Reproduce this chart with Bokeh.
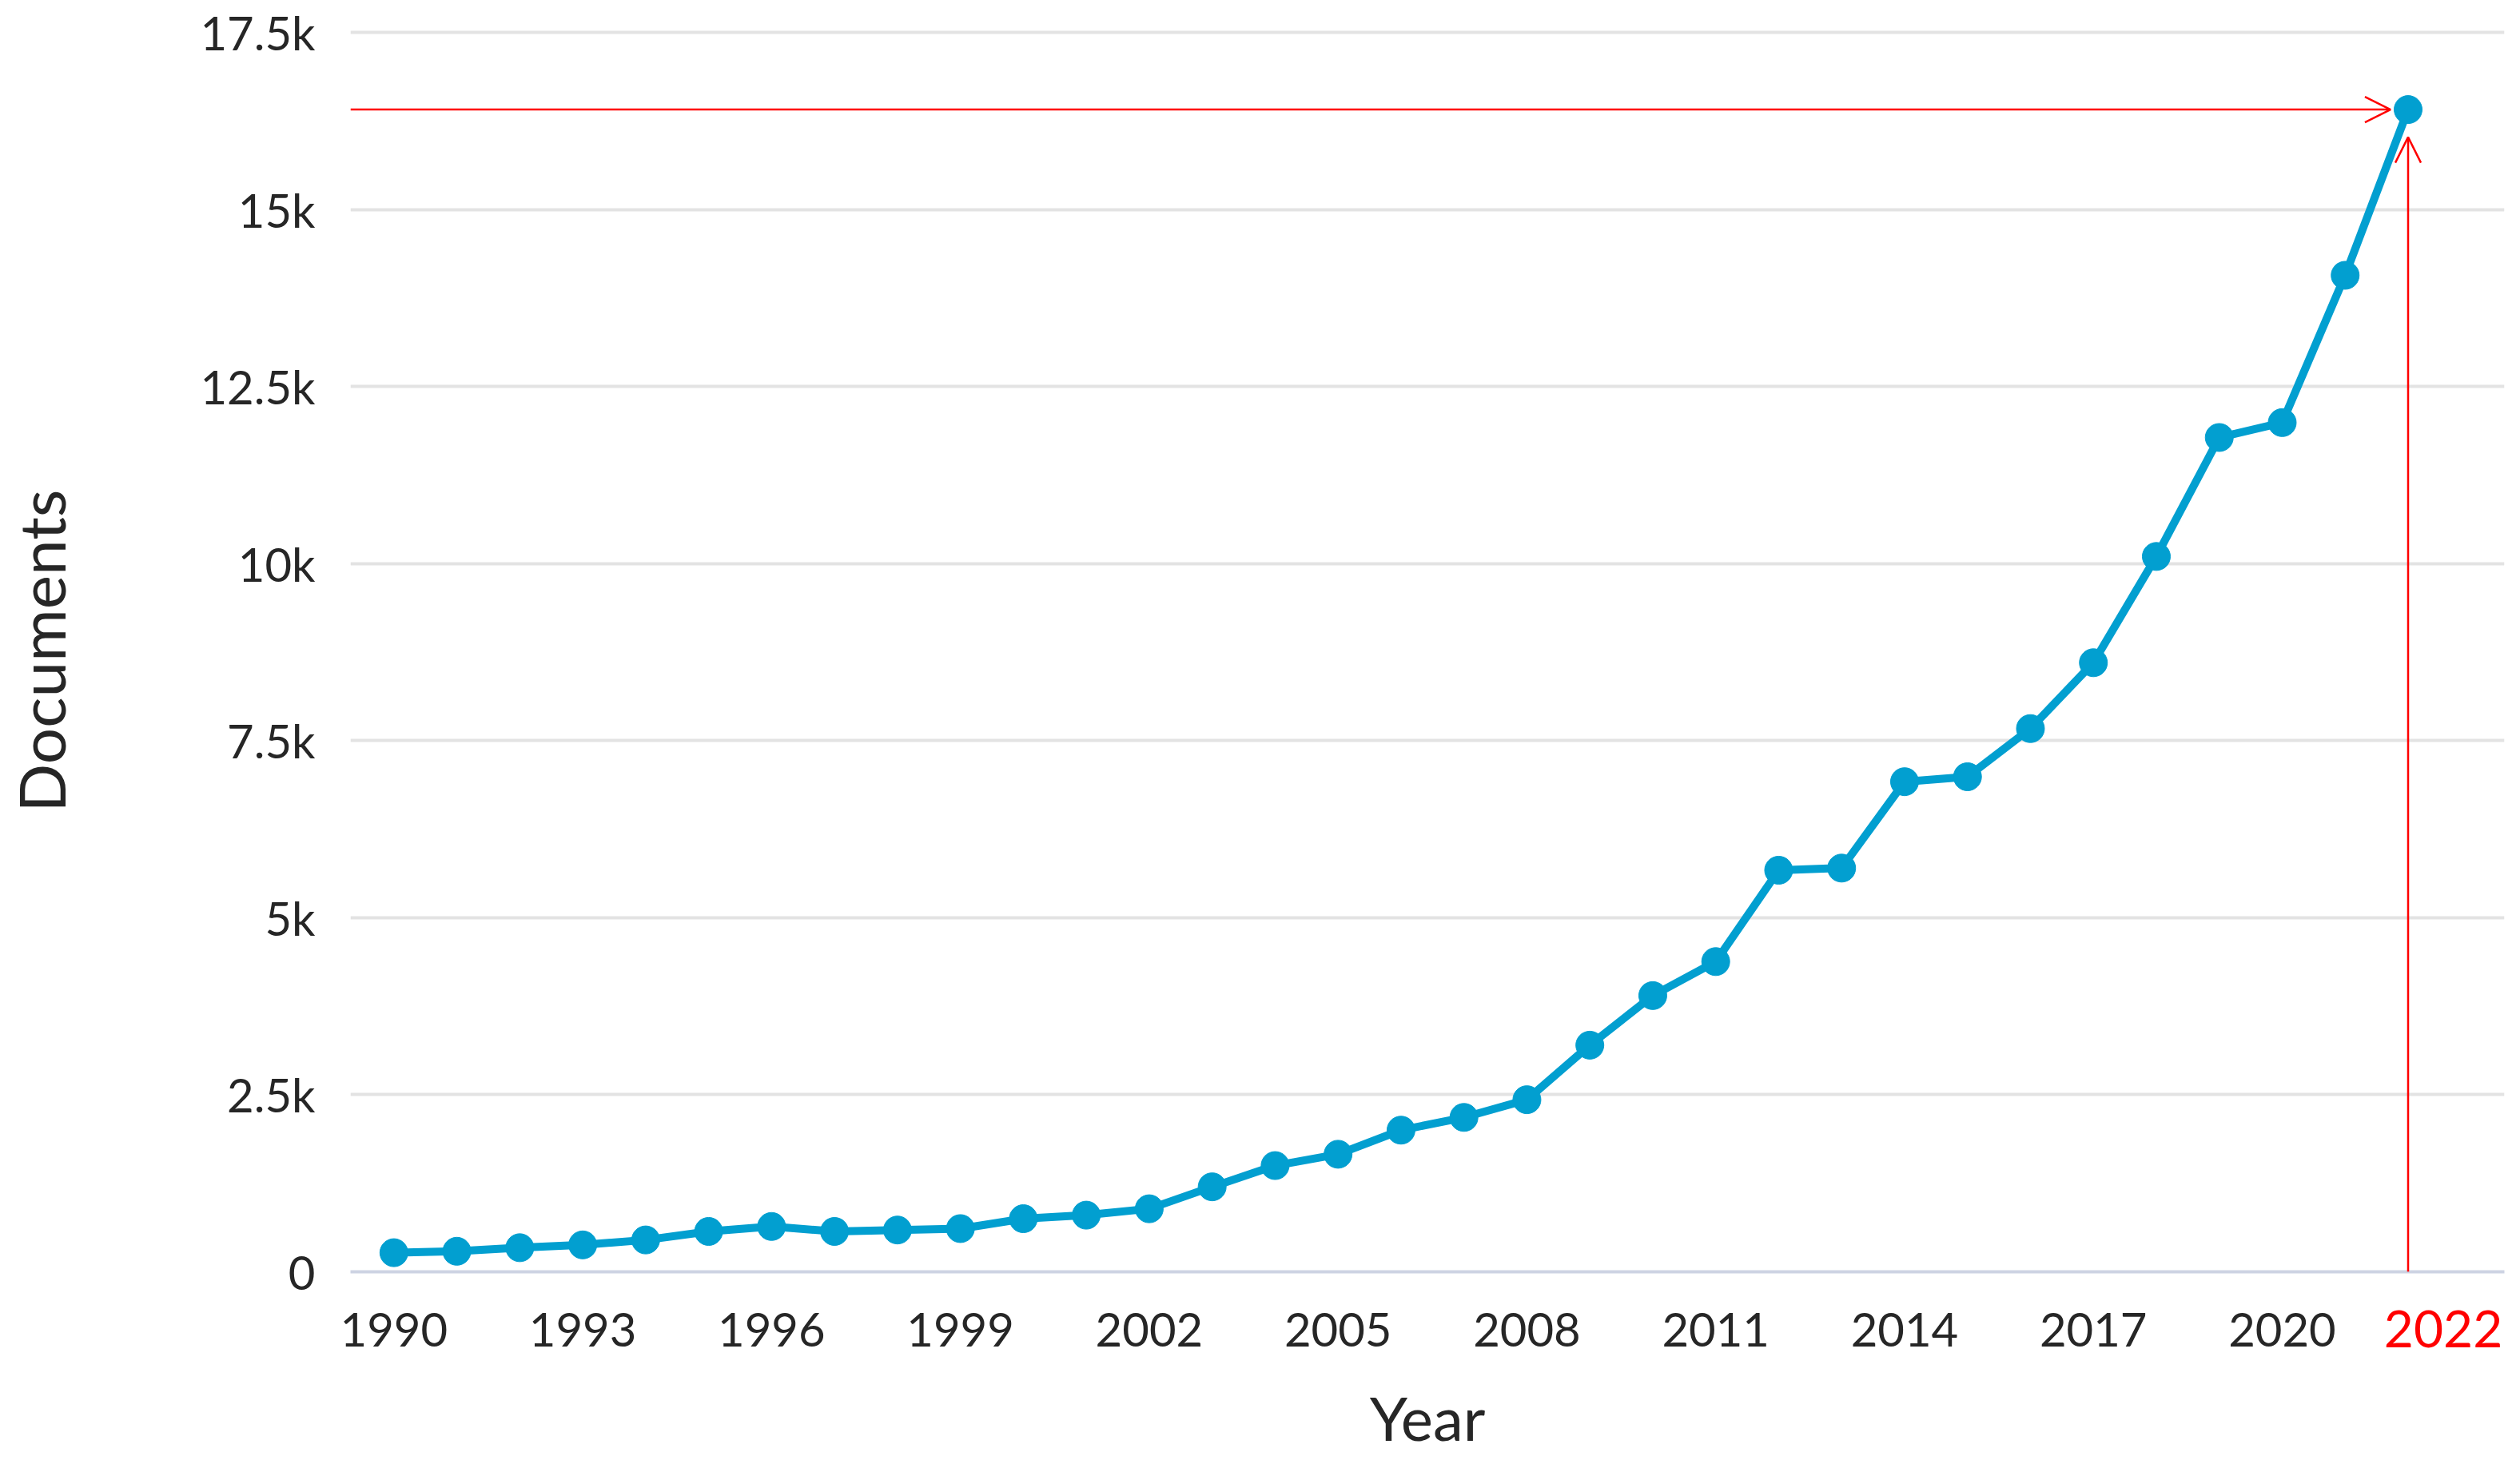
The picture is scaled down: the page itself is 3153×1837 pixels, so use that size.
from bokeh.plotting import figure
from bokeh.models import (Range1d, FixedTicker, Arrow, OpenHead, LinearAxis,
                          CustomJSTickFormatter)
from bokeh.embed import file_html
from bokeh.resources import INLINE

years = list(range(1990, 2023))
documents = [270, 290, 340, 380, 450, 570, 640, 570, 590, 610, 750, 800, 890,
             1200, 1500, 1660, 2000, 2180, 2430, 3200, 3900, 4380, 5670, 5700,
             6920, 6990, 7670, 8600, 10100, 11780, 11990, 14070, 16410]
x_ticks = [1990, 1993, 1996, 1999, 2002, 2005, 2008, 2011, 2014, 2017, 2020]
y_ticks = [0, 2500, 5000, 7500, 10000, 12500, 15000, 17500]
y_tick_labels = ["0", "2.5k", "5k", "7.5k", "10k", "12.5k", "15k", "17.5k"]
highlight_year = "2022"

FONT = "Lato"
TXT = "#262626"
BLUE = "#029fd0"

p = figure(width=3137, height=1821, output_backend="svg", toolbar_location=None,
           x_range=Range1d(1989.31, 2023.53), y_range=Range1d(0, 17534),
           min_border_left=438, min_border_right=4, min_border_top=37, min_border_bottom=230)
p.outline_line_color = None
p.background_fill_color = "white"
p.border_fill_color = "white"

p.line(years, documents, line_color=BLUE, line_width=10)
p.scatter(years, documents, size=35, fill_color=BLUE, line_color=BLUE)

# main axes
p.xaxis.ticker = FixedTicker(ticks=x_ticks)
p.yaxis.ticker = FixedTicker(ticks=y_ticks)
p.yaxis.major_label_overrides = {t: l for t, l in zip(y_ticks, y_tick_labels)}
for ax in (p.xaxis[0], p.yaxis[0]):
    ax.major_tick_line_color = None
    ax.minor_tick_line_color = None
    ax.major_label_text_font = FONT
    ax.major_label_text_font_size = "58px"
    ax.major_label_text_color = TXT
    ax.axis_label_text_font = FONT
    ax.axis_label_text_font_size = "80px"
    ax.axis_label_text_font_style = "normal"
    ax.axis_label_text_color = TXT
p.yaxis.axis_line_color = None
p.xaxis.axis_line_color = "#cdd3e3"
p.xaxis.axis_line_width = 4
p.yaxis.major_label_standoff = 38
p.xaxis.major_label_standoff = 45
p.yaxis.axis_label = "Documents"
p.yaxis.axis_label_standoff = 148

# highlighted last year, drawn as a second bottom axis on the same labels row
last_x = years[-1]
last_y = documents[-1]
hl_axis = LinearAxis(ticker=FixedTicker(ticks=[last_x + 0.56]),
                     formatter=CustomJSTickFormatter(args=dict(label=highlight_year),
                                                     code="return label;"))
hl_axis.axis_line_color = None
hl_axis.major_tick_line_color = None
hl_axis.minor_tick_line_color = None
hl_axis.major_label_text_font = FONT
hl_axis.major_label_text_font_size = "64px"
hl_axis.major_label_text_color = "red"
hl_axis.major_label_standoff = -54
hl_axis.axis_label = "Year"
hl_axis.axis_label_standoff = 39
hl_axis.axis_label_text_font = FONT
hl_axis.axis_label_text_font_size = "76px"
hl_axis.axis_label_text_font_style = "normal"
hl_axis.axis_label_text_color = TXT
p.add_layout(hl_axis, "below")

p.xgrid.grid_line_color = None
p.ygrid.grid_line_color = "#e3e3e3"
p.ygrid.grid_line_width = 4

# red highlight arrows
p.add_layout(Arrow(end=OpenHead(size=32, line_color="red", line_width=2.5),
                   x_start=p.x_range.start, y_start=last_y, x_end=last_x - 0.28, y_end=last_y,
                   line_color="red", line_width=2.5))
p.add_layout(Arrow(end=OpenHead(size=32, line_color="red", line_width=2.5),
                   x_start=last_x, y_start=0, x_end=last_x, y_end=last_y - 390,
                   line_color="red", line_width=2.5))

open("out.html", "w").write(file_html(p, INLINE))
